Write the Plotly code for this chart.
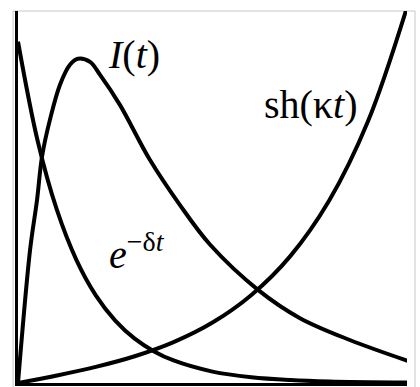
import plotly.graph_objects as go

# Time grid (arbitrary units) and curve values
t_decay = [0, 0.5, 1, 1.5, 2, 2.5, 3, 3.5, 4, 5, 6, 7, 8, 10]
v_decay = [1.0, 0.712, 0.507, 0.361, 0.257, 0.183, 0.130, 0.0926, 0.066,
           0.0334, 0.0169, 0.0086, 0.0043, 0.0011]

t_sh = [0, 1, 2, 3, 4, 5, 6, 7, 8, 9, 10]
v_sh = [0, 0.0221, 0.0472, 0.0784, 0.1198, 0.1771, 0.2579, 0.3717,
        0.5346, 0.7674, 1.1008]

t_inf = [0, 0.31, 0.49, 0.617, 0.82, 1.08, 1.34, 1.54, 1.85, 2.11, 2.62,
         3.39, 4.16, 4.94, 6.17, 7.25, 8.53, 10.03]
v_inf = [0, 0.39, 0.537, 0.663, 0.771, 0.874, 0.933, 0.950, 0.941, 0.903,
         0.815, 0.654, 0.522, 0.405, 0.273, 0.19, 0.126, 0.0645]

X_RANGE = [0, 10]
Y_RANGE = [0, 1.09]

SERIF = "Liberation Serif, Times New Roman, serif"
line_style = dict(color="black", width=4, shape="spline", smoothing=1.0)

fig = go.Figure()
for tx, vy in ((t_decay, v_decay), (t_sh, v_sh), (t_inf, v_inf)):
    fig.add_trace(go.Scatter(x=tx, y=vy, mode="lines", line=line_style,
                             hoverinfo="skip", showlegend=False))

# Curve labels
label_font = dict(family=SERIF, size=40, color="black")
fig.add_annotation(x=2.98, y=0.962, text="<i>I</i>(<i>t</i>)", showarrow=False,
                   font=label_font)
fig.add_annotation(x=7.53, y=0.815, text="sh(κ<i>t</i>)", showarrow=False,
                   font=label_font)
fig.add_annotation(x=3.05, y=0.385, text="<i>e</i><sup>−δ<i>t</i></sup>",
                   showarrow=False, font=label_font)

# Light frame around the drawing
fig.add_shape(type="rect", xref="paper", yref="paper",
              x0=-5 / 389, x1=397 / 389, y0=-12 / 372, y1=1.0,
              line=dict(color="#c8c8c8", width=1), layer="below")

axis_common = dict(showgrid=False, zeroline=False, showticklabels=False,
                   ticks="", showline=True, linecolor="black", linewidth=3)
fig.update_xaxes(range=X_RANGE, **axis_common)
fig.update_yaxes(range=Y_RANGE, **axis_common)

fig.update_layout(width=420, height=387,
                  margin=dict(l=18, r=13, t=11, b=4),
                  paper_bgcolor="white", plot_bgcolor="white")

fig.write_html("out.html")
